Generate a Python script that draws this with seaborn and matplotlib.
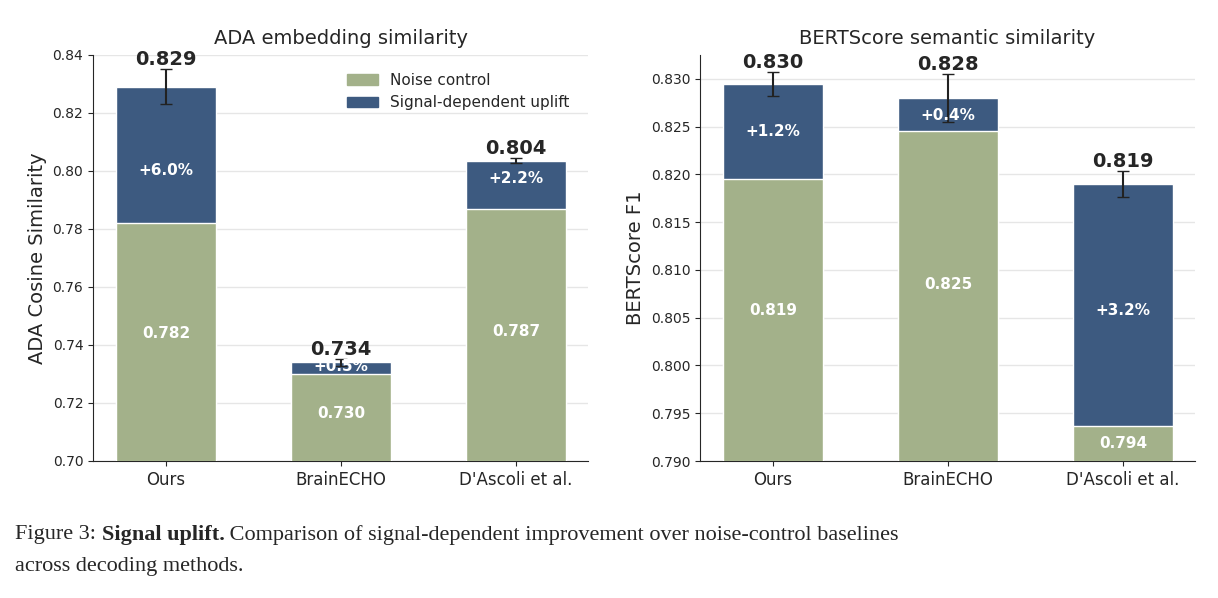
import matplotlib
matplotlib.use("Agg")
import matplotlib.pyplot as plt
import seaborn as sns
import pandas as pd
from matplotlib.patches import Patch

methods = ["Ours", "BrainECHO", "D'Ascoli et al."]
ada_noise = [0.782, 0.730, 0.787]
ada_total = [0.829, 0.734, 0.8035]
ada_err = [0.006, 0.0012, 0.0009]
ada_uplift = ["+6.0%", "+0.5%", "+2.2%"]
ada_total_lbl = ["0.829", "0.734", "0.804"]
ada_noise_lbl = ["0.782", "0.730", "0.787"]

bs_noise = [0.8195, 0.8245, 0.7937]
bs_total = [0.8295, 0.828, 0.819]
bs_err = [0.00125, 0.0025, 0.0014]
bs_uplift = ["+1.2%", "+0.4%", "+3.2%"]
bs_total_lbl = ["0.830", "0.828", "0.819"]
bs_noise_lbl = ["0.819", "0.825", "0.794"]

GREEN = "#a3b18a"
BLUE = "#3d5a80"

sns.set_style("ticks")
plt.rcParams['font.family'] = ['DejaVu Sans']

fig = plt.figure(figsize=(12.18, 5.98), dpi=100)
ax1 = fig.add_axes([93/1218, 1-461/598, 495/1218, 406/598])
ax2 = fig.add_axes([700/1218, 1-461/598, 495/1218, 406/598])

def panel(ax, noise, total, err, upl, tl, nl, ylim, ylabel, title, upl_y, noise_y, ticks, fmt):
    df = pd.DataFrame({"m": methods, "noise": noise, "total": total})
    sns.barplot(data=df, x="m", y="total", color=BLUE, width=0.57, ax=ax, zorder=2, saturation=1)
    sns.barplot(data=df, x="m", y="noise", color=GREEN, width=0.57, ax=ax, zorder=3, saturation=1)
    ax.errorbar(range(3), total, yerr=err, fmt="none", ecolor="#222222", capsize=4, lw=1.5, zorder=4)
    for i in range(3):
        ax.text(i, total[i] + err[i], tl[i], ha="center", va="bottom", fontsize=14, fontweight="bold")
        ax.text(i, upl_y[i], upl[i], ha="center", va="center", color="white", fontsize=11, fontweight="bold", zorder=5)
        ax.text(i, noise_y[i], nl[i], ha="center", va="center", color="white", fontsize=11, fontweight="bold", zorder=5)
    ax.set_ylim(*ylim)
    ax.set_xlim(-0.417, 2.411)
    ax.set_yticks(ticks)
    ax.set_yticklabels([fmt.format(t) for t in ticks], fontsize=10)
    ax.tick_params(axis="x", labelsize=12)
    ax.set_xlabel("")
    ax.set_ylabel(ylabel, fontsize=14)
    ax.set_title(title, fontsize=14, pad=8)
    ax.yaxis.grid(True, color="#e6e6e6", lw=1, zorder=0)
    ax.set_axisbelow(True)
    sns.despine(ax=ax)

panel(ax1, ada_noise, ada_total, ada_err, ada_uplift, ada_total_lbl, ada_noise_lbl,
      (0.70, 0.84), "ADA Cosine Similarity", "ADA embedding similarity",
      [0.800, 0.7325, 0.7975], [0.744, 0.7165, 0.7445],
      [0.70, 0.72, 0.74, 0.76, 0.78, 0.80, 0.82, 0.84], "{:.2f}")
panel(ax2, bs_noise, bs_total, bs_err, bs_uplift, bs_total_lbl, bs_noise_lbl,
      (0.790, 0.8325), "BERTScore F1", "BERTScore semantic similarity",
      [0.8245, 0.8262, 0.8058], [0.8058, 0.8085, 0.7918],
      [0.790, 0.795, 0.800, 0.805, 0.810, 0.815, 0.820, 0.825, 0.830], "{:.3f}")

ax1.legend(handles=[Patch(color=GREEN, label="Noise control"), Patch(color=BLUE, label="Signal-dependent uplift")],
           loc="upper right", bbox_to_anchor=(0.99, 0.99), frameon=False, fontsize=11)

fig.text(15/1218, 1-535/598, "Figure 3: ", fontsize=16, family="Liberation Serif", va="center")
t = fig.text(15/1218, 1-535/598, "", fontsize=16, family="Liberation Serif", va="center")
fig.canvas.draw()
r = fig.canvas.get_renderer()
w1 = fig.texts[0].get_window_extent(r).width
fig.text((15 + w1)/1218, 1-535/598, "Signal uplift.", fontsize=16, family="Liberation Serif", fontweight="bold", va="center")
fig.canvas.draw()
w2 = fig.texts[2].get_window_extent(r).width
fig.text((15 + w1 + w2)/1218, 1-535/598, " Comparison of signal-dependent improvement over noise-control baselines",
         fontsize=16, family="Liberation Serif", va="center")
fig.text(15/1218, 1-567/598, "across decoding methods.", fontsize=16, family="Liberation Serif", va="center")

fig.savefig("out.png", dpi=100)
